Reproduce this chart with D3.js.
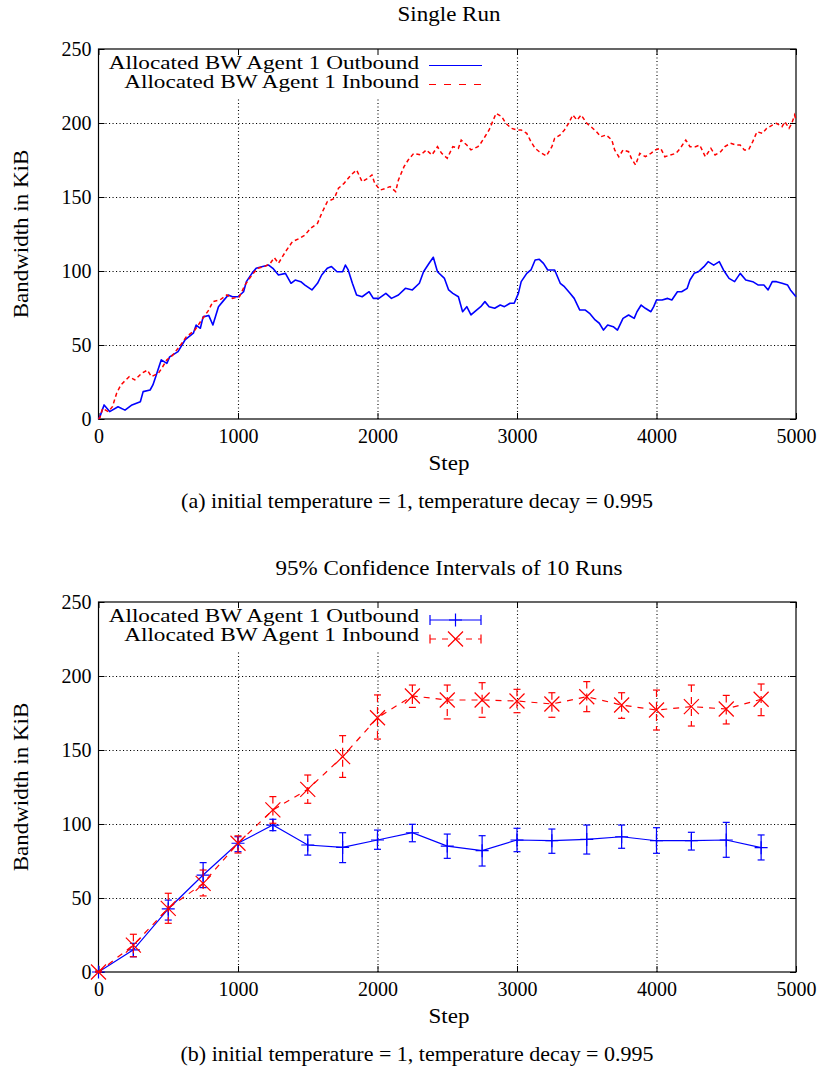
<!DOCTYPE html>
<html><head><meta charset="utf-8">
<script src="https://cdn.jsdelivr.net/npm/d3@7"></script>
<style>
body{margin:0;background:#fff}
svg text{font-family:"Liberation Serif","Times New Roman",Times,"DejaVu Serif",serif;font-size:20px;fill:#000}
</style></head>
<body><svg id="c" width="823" height="1069"></svg>
<script>
// ---------- data: single run ----------
const outSteps=[0,10,40,80,140,190,240,300,320,370,390,410,450,490,510,570,620,680,700,730,750,790,820,860,890,930,960,1000,1040,1060,1100,1130,1170,1220,1250,1290,1340,1380,1410,1450,1480,1530,1570,1600,1640,1670,1710,1750,1770,1790,1820,1850,1890,1940,1970,2010,2060,2100,2150,2200,2250,2300,2330,2370,2400,2430,2480,2510,2540,2580,2610,2640,2670,2710,2740,2770,2800,2840,2880,2910,2950,2980,3010,3030,3070,3100,3130,3160,3190,3220,3270,3310,3340,3380,3410,3450,3490,3520,3560,3590,3620,3650,3690,3720,3760,3800,3840,3860,3890,3920,3960,3980,4000,4040,4080,4110,4150,4180,4220,4240,4270,4300,4340,4370,4410,4450,4480,4520,4560,4600,4640,4690,4730,4770,4800,4830,4860,4900,4940,4960,5000];
const outVals=[0,1.6,9.5,5,8.3,6,9.5,11.7,18.5,19.6,23,28.6,40,37.6,42,45.5,53.4,58,63.5,61.3,69,70,63.5,75.9,79.3,83.8,82.6,82.6,86,92.8,98.4,101.8,102.9,104,101.8,97.3,98.4,91.7,93.9,92.8,90.5,87.2,91.7,97.3,101.8,103,99.5,99.5,104,100.7,91.7,83.8,82.6,86,81.5,81.5,84.9,81.5,83.8,88.3,87.2,91.7,99.5,105.2,109.3,99.5,95,87.2,84.9,82.6,72.5,75.9,70.3,73.6,75.9,79.3,75.9,74.8,77,75.9,78.2,78.2,84.9,92.8,98.4,100.7,107.4,107.9,105.2,100.7,100.7,91.7,89.4,84.9,81.5,73.6,73.6,71.4,66.9,64.7,60.1,63.5,62.4,60.1,68,70.3,68,72.5,77,74.8,72.5,75.9,80.4,80.4,81.5,80.4,86,86,88.3,93.9,98.4,99.5,102.9,106.3,104,106.3,100.7,95,92.8,98.4,93.9,92.8,90.5,90.5,87.2,92.8,92.8,91.7,90.5,87.2,82.6];
const inSteps=[0,10,30,70,100,130,160,220,260,310,350,380,430,460,490,530,580,630,690,740,790,820,870,920,960,1010,1050,1100,1140,1190,1230,1260,1290,1340,1390,1440,1480,1520,1570,1600,1640,1690,1720,1760,1810,1850,1890,1930,1960,1980,2020,2060,2090,2130,2150,2190,2220,2260,2310,2350,2390,2430,2460,2500,2540,2580,2600,2640,2670,2720,2740,2770,2800,2830,2850,2890,2920,2960,3000,3030,3070,3100,3130,3160,3210,3250,3270,3310,3340,3370,3400,3430,3460,3500,3530,3570,3600,3640,3680,3700,3730,3760,3800,3820,3850,3880,3920,3960,3990,4030,4060,4100,4140,4170,4210,4240,4280,4310,4350,4390,4420,4460,4490,4530,4570,4600,4630,4660,4690,4720,4760,4790,4830,4860,4900,4920,4950,4970,4990,5000];
const inVals=[0,1,7.2,5,8.3,17.4,23,28.6,26.4,30.9,33,28.6,31,35.3,40,43,48.9,55.6,60,67,73.6,79.3,80.4,83.8,81.5,82.6,90.5,97.3,101.8,103,105,109,105.2,113,119.8,122,124.3,128.8,132.2,139,146.8,149,155.9,159.2,164.9,168.2,160.3,162.6,164.9,159.2,154.7,155.9,157,153.6,161.5,170.5,175,179.5,178.4,181.8,178.4,184,179.5,176.2,184,182.9,188.5,185.1,181.8,184,186.3,190.7,195.3,202,206.5,204.3,199.8,196.4,195.3,195.3,193,187.4,182.9,180.6,177.7,184,189.7,191.9,195.3,199.8,205.4,202,205.4,199.8,197.5,194.1,190.7,191.9,188.5,181.8,177.2,181.8,180.6,176.1,171.6,179.5,177.2,179.5,181.8,182.9,177.2,178.4,179.5,182.9,188.5,184,184,185.1,177.2,182.9,178.4,180.6,184,186.3,185.1,185.1,181.8,181.8,187.4,194.1,193,196.4,198.6,199.8,197.5,200.9,196.4,199.8,205.4,202];
// ---------- data: confidence intervals ----------
const ciSteps=[0,250,500,750,1000,1250,1500,1750,2000,2250,2500,2750,3000,3250,3500,3750,4000,4250,4500,4750];
const outMean=[0,15,42.6,65.5,87,99.3,85.8,84.2,89.2,94.1,85.1,82,89.2,88.7,89.6,91.4,88.7,88.7,89.2,84];
const outLo=[0,10.3,35.1,57,81.3,95.5,79,73.9,82.9,88,76.8,71.6,81.3,80.2,79.7,83.6,80.2,82.4,77.5,75.7];
const outHi=[0.5,19.4,48.6,73.9,91.4,103.2,92.6,94.1,95.9,99.8,93.2,92.1,97.1,96.6,99.3,99.3,97.5,94.4,101.1,92.6];
const inMean=[0,18.2,43,59.9,87,109.5,123.4,145.5,171.8,186.5,183.8,183.8,183.1,181.1,186,180.4,177,179.3,177.7,184.3];
const inLo=[0,10.3,32.9,51.4,80.4,100.5,114,131.5,157.4,178.8,171,172.1,175.2,172.1,175.9,171.4,163.5,166.2,167.6,173.2];
const inHi=[0.5,25.5,53.2,68.9,92,118.5,133.1,159.7,187.2,193.9,193.9,195.5,191,188.7,196.2,188.7,190.5,193.9,186.9,194.6];
// ---------- ticks / labels ----------
const xTicks=[0,1000,2000,3000,4000,5000];
const yTicks=[0,50,100,150,200,250];
const titles=["Single Run","95% Confidence Intervals of 10 Runs"];
const captions=["(a) initial temperature = 1, temperature decay = 0.995","(b) initial temperature = 1, temperature decay = 0.995"];
const seriesNames=["Allocated BW Agent 1 Outbound","Allocated BW Agent 1 Inbound"];
const xLabel="Step", yLabel="Bandwidth in KiB";

const FONT='"Liberation Serif","Times New Roman",Times,"DejaVu Serif",serif';
const BLUE="#0000ff", RED="#ff0000", DASH="7,8";
const svg=d3.select("#c");
const SX=1.15;
function T(g,x,y,s,anchor,sx,rot,size){
  return g.append("text").attr("transform",`translate(${x},${y})`+(rot?` rotate(${rot})`:"")+` scale(${sx},1)`)
   .attr("text-anchor",anchor).style("font-family",FONT).style("font-size",(size||20)+"px").text(s);
}
const L=98.5,R=796;
const x=d3.scaleLinear().domain([0,5000]).range([L,R]);

function panel(top,bottom,idx,titleY,legY){
  const y=d3.scaleLinear().domain([0,250]).range([bottom,top]);
  const g=svg.append("g");
  const dotted=a=>{a.select(".domain").remove();a.selectAll("line").attr("stroke","#000").attr("stroke-width",1.1).attr("stroke-dasharray","1.1,2.4");};
  g.append("g").attr("transform",`translate(0,${bottom})`)
   .call(d3.axisBottom(x).tickValues(xTicks.slice(1,-1)).tickSize(-(bottom-top)).tickFormat("")).call(dotted);
  g.append("g").attr("transform",`translate(${L},0)`)
   .call(d3.axisLeft(y).tickValues(yTicks.slice(1,-1)).tickSize(-(R-L)).tickFormat("")).call(dotted);
  g.append("rect").attr("x",L+2).attr("y",top+1).attr("width",388).attr("height",47).attr("fill","#fff");
  const lab=a=>{a.select(".domain").remove();a.attr("font-family",null).selectAll("text").style("font-size","20px").style("font-family",FONT);};
  g.append("g").attr("transform",`translate(0,${bottom})`)
   .call(d3.axisBottom(x).tickValues(xTicks).tickSize(-6).tickPadding(10).tickFormat(d3.format("d"))).call(lab);
  g.append("g").attr("transform",`translate(${L},0)`)
   .call(d3.axisLeft(y).tickValues(yTicks).tickSize(-6).tickPadding(7).tickFormat(d3.format("d"))).call(lab);
  g.append("g").attr("transform",`translate(0,${top})`)
   .call(d3.axisTop(x).tickValues(xTicks).tickSize(-6).tickFormat("")).call(a=>a.select(".domain").remove());
  g.append("g").attr("transform",`translate(${R},0)`)
   .call(d3.axisRight(y).tickValues(yTicks).tickSize(-6).tickFormat("")).call(a=>a.select(".domain").remove());
  g.append("rect").attr("x",L).attr("y",top).attr("width",R-L).attr("height",bottom-top)
   .attr("fill","none").attr("stroke","#000").attr("stroke-width",1.2);
  T(svg,449,titleY,titles[idx],"middle",SX);
  T(svg,449,bottom+51,xLabel,"middle",SX);
  T(svg,28,(top+bottom)/2,yLabel,"middle",SX,-90);
  T(svg,417,bottom+89,captions[idx],"middle",1.1);
  T(svg,419,legY,seriesNames[0],"end",1.29,0,18);
  T(svg,419,legY+19,seriesNames[1],"end",1.29,0,18);
  return {g,y};
}

// ---------- panel (a) ----------
const A=panel(49,419,0,21,69);
const lineA=d3.line().x(d=>x(d[0])).y(d=>A.y(d[1]));
A.g.append("path").datum(outSteps.map((s,i)=>[s,outVals[i]])).attr("d",lineA)
 .attr("fill","none").attr("stroke",BLUE).attr("stroke-width",1.6).attr("stroke-linejoin","round");
A.g.append("path").datum(inSteps.map((s,i)=>[s,inVals[i]])).attr("d",lineA)
 .attr("fill","none").attr("stroke",RED).attr("stroke-width",1.5).attr("stroke-dasharray","4,3");
A.g.append("line").attr("x1",429).attr("x2",482).attr("y1",65.5).attr("y2",65.5).attr("stroke",BLUE).attr("stroke-width",1.2);
A.g.append("line").attr("x1",429).attr("x2",482).attr("y1",84.5).attr("y2",84.5).attr("stroke",RED).attr("stroke-width",1.2).attr("stroke-dasharray",DASH);

// ---------- panel (b) ----------
const B=panel(602,972,1,575,622);
const yB=B.y;
const lineB=d3.line().x(d=>x(d[0])).y(d=>yB(d[1]));
function plus(g,cx,cy,h,col){g.append("path").attr("d",`M${cx-h},${cy}H${cx+h}M${cx},${cy-h}V${cy+h}`).attr("stroke",col).attr("stroke-width",1.2).attr("fill","none");}
function cross(g,cx,cy,h,col){g.append("path").attr("d",`M${cx-h},${cy-h}L${cx+h},${cy+h}M${cx-h},${cy+h}L${cx+h},${cy-h}`).attr("stroke",col).attr("stroke-width",1.2).attr("fill","none");}
function errbar(g,cx,y1,y2,col,dash){
  g.append("line").attr("x1",cx).attr("x2",cx).attr("y1",y1).attr("y2",y2).attr("stroke",col).attr("stroke-width",1.2).attr("stroke-dasharray",dash||null);
  [y1,y2].forEach(v=>g.append("line").attr("x1",cx-3.5).attr("x2",cx+3.5).attr("y1",v).attr("y2",v).attr("stroke",col).attr("stroke-width",1.2));
}
B.g.append("path").datum(ciSteps.map((s,i)=>[s,outMean[i]])).attr("d",lineB).attr("fill","none").attr("stroke",BLUE).attr("stroke-width",1.2);
ciSteps.forEach((s,i)=>{errbar(B.g,x(s),yB(outHi[i]),yB(outLo[i]),BLUE);plus(B.g,x(s),yB(outMean[i]),6.5,BLUE);});
B.g.append("path").datum(ciSteps.map((s,i)=>[s,inMean[i]])).attr("d",lineB).attr("fill","none").attr("stroke",RED).attr("stroke-width",1.2).attr("stroke-dasharray","6,6");
ciSteps.forEach((s,i)=>{errbar(B.g,x(s),yB(inHi[i]),yB(inLo[i]),RED,"7,5");cross(B.g,x(s),yB(inMean[i]),7.5,RED);});
B.g.append("line").attr("x1",430).attr("x2",481).attr("y1",620).attr("y2",620).attr("stroke",BLUE).attr("stroke-width",1.2);
[430,481].forEach(v=>B.g.append("line").attr("x1",v).attr("x2",v).attr("y1",615).attr("y2",625).attr("stroke",BLUE).attr("stroke-width",1.2));
plus(B.g,455.5,620,6.5,BLUE);
B.g.append("line").attr("x1",430).attr("x2",481).attr("y1",639).attr("y2",639).attr("stroke",RED).attr("stroke-width",1.2).attr("stroke-dasharray","6,6");
[430,481].forEach(v=>B.g.append("line").attr("x1",v).attr("x2",v).attr("y1",634.5).attr("y2",643.5).attr("stroke",RED).attr("stroke-width",1.2));
cross(B.g,455.5,639,7.5,RED);
</script></body></html>
